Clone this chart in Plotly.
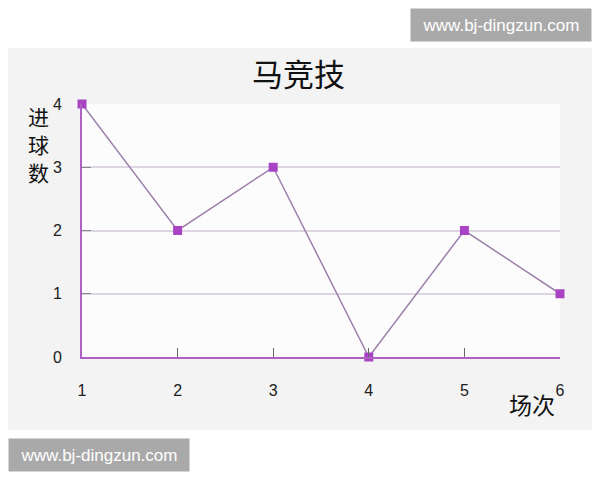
import plotly.graph_objects as go

# 场次 / 进球数
matches = [1, 2, 3, 4, 5, 6]
goals = [4, 2, 3, 0, 2, 1]
y_ticks = [0, 1, 2, 3, 4]
title_text = "马竞技"
x_title = "场次"
y_title = "进球数"
watermark = "www.bj-dingzun.com"

# the page puts the figure 8px in from the top-left corner
OFF = 8
W, H = 600 - OFF, 480 - OFF
# plot area on screen: x 82..560, y 104..357
L, T = 82 - OFF, 104 - OFF
R, B = W - (560 - OFF), H - (357 - OFF)
pw, ph = W - L - R, H - T - B


def px(x):
    return (x - OFF - L) / pw


def py(y):
    return (H - B - (y - OFF)) / ph


cjk = "Noto Sans CJK SC"
num_font = "Liberation Sans, Arial, sans-serif"

fig = go.Figure(go.Scatter(
    x=matches,
    y=goals,
    mode="lines+markers",
    line={"color": "#9c80ac", "width": 1.5},
    marker={"symbol": "square", "size": 9, "color": "#a844c4"},
    cliponaxis=False,
))

fig.update_layout(
    width=W,
    height=H,
    margin={"l": L, "r": R, "t": T, "b": B, "pad": 0},
    paper_bgcolor="#f3f3f3",
    plot_bgcolor="#fdfcfd",
    showlegend=False,
    xaxis={
        "range": [1, 6],
        "tickvals": matches,
        "showgrid": False,
        "zeroline": False,
        "showline": True,
        "linecolor": "#b060c4",
        "linewidth": 2,
        "ticks": "inside",
        "ticklen": 9,
        "tickcolor": "#666666",
        "tickfont": {"family": num_font, "size": 16, "color": "#202020"},
        "ticklabelstandoff": 18,
        "fixedrange": True,
    },
    yaxis={
        "range": [0, 4],
        "tickvals": y_ticks,
        "showgrid": True,
        "gridcolor": "#ddd6e2",
        "gridwidth": 2,
        "zeroline": False,
        "showline": True,
        "linecolor": "#b060c4",
        "linewidth": 2,
        "ticks": "inside",
        "ticklen": 9,
        "tickcolor": "#888888",
        "tickfont": {"family": num_font, "size": 16, "color": "#202020"},
        "ticklabelstandoff": 15,
        "fixedrange": True,
    },
    shapes=[
        {"type": "rect", "xref": "paper", "yref": "paper", "layer": "below",
         "x0": px(0), "x1": px(600), "y0": py(48), "y1": py(0),
         "fillcolor": "white", "line": {"width": 0}},
        {"type": "rect", "xref": "paper", "yref": "paper", "layer": "below",
         "x0": px(0), "x1": px(600), "y0": py(480), "y1": py(430),
         "fillcolor": "white", "line": {"width": 0}},
    ],
)

anns = [
    dict(x=px(298), y=py(72), text=title_text,
         font={"family": cjk, "size": 31, "color": "#111111"}),
    dict(x=px(532), y=py(404), text=x_title,
         font={"family": cjk, "size": 23, "color": "#111111"}),
    dict(x=px(501), y=py(25), text=watermark, width=178, height=30,
         bgcolor="#a9a9a9", font={"family": num_font, "size": 17, "color": "white"}),
    dict(x=px(99), y=py(455), text=watermark, width=178, height=30,
         bgcolor="#a9a9a9", font={"family": num_font, "size": 17, "color": "white"}),
]
# y title stacked one character per line
for ch, yy in zip(y_title, [116, 144, 172]):
    anns.append(dict(x=px(38), y=py(yy), text=ch, borderpad=0,
                     font={"family": cjk, "size": 21, "color": "#111111"}))

for a in anns:
    fig.add_annotation(xref="paper", yref="paper", xanchor="center",
                       yanchor="middle", showarrow=False, **a)

fig.write_html("out.html")
